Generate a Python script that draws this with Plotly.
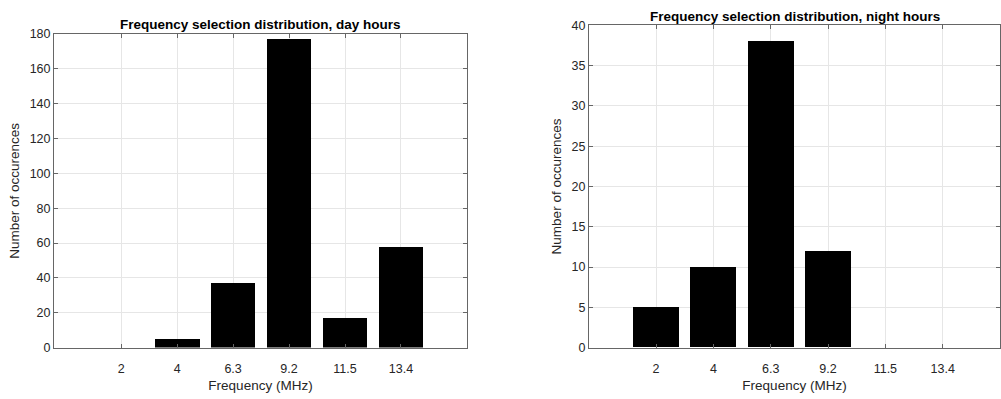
import plotly.graph_objects as go

freq_labels = ["2", "4", "6.3", "9.2", "11.5", "13.4"]
positions = [1, 2, 3, 4, 5, 6]
day_counts = [0, 5, 37, 177, 17, 58]
night_counts = [5, 10, 38, 12, 0, 0]

W, H = 1001, 399
FONT = "Liberation Sans, Arial, sans-serif"
TXT = "#262626"

fig = go.Figure()
fig.add_trace(go.Bar(x=positions, y=day_counts, width=0.8, marker=dict(color="black", line=dict(width=0)),
                     xaxis="x", yaxis="y", showlegend=False))
fig.add_trace(go.Bar(x=positions, y=night_counts, width=0.8, marker=dict(color="black", line=dict(width=0)),
                     xaxis="x2", yaxis="y2", showlegend=False))

def xd(a, b):
    return [a / W, b / W]

def yd(top, bottom):
    return [(H - bottom) / H, (H - top) / H]

common_x = dict(tickmode="array", tickvals=positions, ticktext=freq_labels,
                showgrid=True, gridcolor="#e6e6e6", gridwidth=1,
                showline=True, linecolor="#666666", linewidth=1, mirror="ticks",
                ticks="inside", ticklen=4, tickcolor="#666666", ticklabelstandoff=9,
                tickfont=dict(family=FONT, size=12.5, color=TXT), zeroline=False,
                title=dict(text="Frequency (MHz)", font=dict(family=FONT, size=13.5, color=TXT), standoff=5))
common_y = dict(showgrid=True, gridcolor="#e6e6e6", gridwidth=1,
                showline=True, linecolor="#666666", linewidth=1, mirror="ticks",
                ticks="inside", ticklen=4, tickcolor="#666666",
                tickfont=dict(family=FONT, size=12.5, color=TXT), zeroline=False,
                title=dict(text="Number of occurences", font=dict(family=FONT, size=13.5, color=TXT), standoff=6))

L_l, L_r, L_t, L_b = 54, 467, 28, 353
R_l, R_r, R_t, R_b = 589, 1000, 19, 353

fig.update_layout(
    width=W, height=H, margin=dict(l=0, r=0, t=0, b=0),
    paper_bgcolor="white", plot_bgcolor="white", bargap=0,
    xaxis=dict(domain=xd(L_l, L_r), range=[-0.2, 7.18], anchor="y", **common_x),
    yaxis=dict(domain=yd(L_t, L_b), range=[0, 180], dtick=20, anchor="x", **common_y),
    xaxis2=dict(domain=xd(R_l, R_r), range=[-0.17, 7.0], anchor="y2", **common_x),
    yaxis2=dict(domain=yd(R_t, R_b), range=[0, 40], dtick=5, anchor="x2", **common_y),
    annotations=[
        dict(text="<b>Frequency selection distribution, day hours</b>", x=(L_l + L_r) / 2 / W, y=(H - 18) / H,
             xref="paper", yref="paper", showarrow=False, xanchor="center", yanchor="middle",
             font=dict(family=FONT, size=13.5, color="black")),
        dict(text="<b>Frequency selection distribution, night hours</b>", x=(R_l + R_r) / 2 / W, y=(H - 9.5) / H,
             xref="paper", yref="paper", showarrow=False, xanchor="center", yanchor="middle",
             font=dict(family=FONT, size=13.5, color="black")),
    ],
)

fig.write_html("out.html")
